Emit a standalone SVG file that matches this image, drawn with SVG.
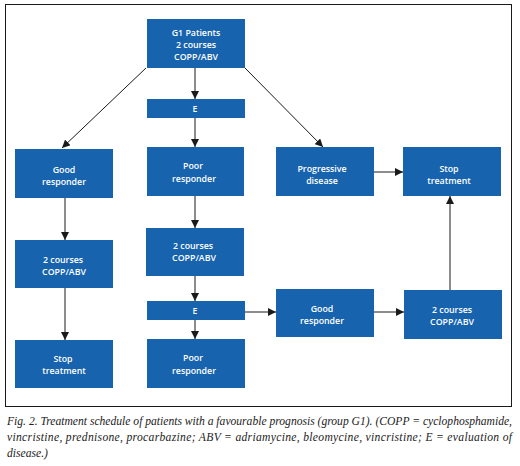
<svg xmlns="http://www.w3.org/2000/svg" width="520" height="466" viewBox="0 0 520 466">
<style>
.b{fill:#1763ad}
.t{fill:#ffffff;font-family:"Open Sans","Noto Sans",sans-serif;font-size:8.8px;font-weight:600;text-anchor:middle}
.c{stroke:#1a1a1a;stroke-width:1;fill:none;marker-end:url(#a)}
.cap{font-family:"Liberation Serif",serif;font-style:italic;font-size:11.6px;fill:#222}
</style>
<defs>
<marker id="a" viewBox="0 0 10 10" refX="10" refY="5" markerWidth="8" markerHeight="8" markerUnits="userSpaceOnUse" orient="auto">
<path d="M0,0 L10,5 L0,10 Z" fill="#1a1a1a"/>
</marker>
</defs>
<rect width="520" height="466" fill="#ffffff"/>
<rect x="5.5" y="4.5" width="506" height="402" fill="none" stroke="#1a1a1a" stroke-width="1"/>
<g id="connectors">
<line class="c" x1="146" y1="68" x2="62" y2="148"/>
<line class="c" x1="245" y1="68" x2="323" y2="147"/>
<line class="c" x1="195" y1="68" x2="195" y2="99"/>
<line class="c" x1="195" y1="118" x2="195" y2="147"/>
<line class="c" x1="195" y1="196" x2="195" y2="228"/>
<line class="c" x1="195" y1="276" x2="195" y2="301"/>
<line class="c" x1="195" y1="320" x2="195" y2="339"/>
<line class="c" x1="245" y1="312" x2="276" y2="312"/>
<line class="c" x1="374" y1="312" x2="404" y2="312"/>
<line class="c" x1="450" y1="290" x2="450" y2="196"/>
<line class="c" x1="374" y1="172" x2="403" y2="172"/>
<line class="c" x1="65" y1="198" x2="65" y2="240"/>
<line class="c" x1="65" y1="288" x2="65" y2="340"/>
</g>
<g id="n1"><rect class="b" x="147" y="19" width="98" height="49"/><text class="t" x="196" y="36">G1 Patients</text><text class="t" x="196" y="48">2 courses</text><text class="t" x="196" y="60">COPP/ABV</text></g>
<g id="n2"><rect class="b" x="147" y="99" width="98" height="19"/><text class="t" x="195" y="112">E</text></g>
<g id="n3"><rect class="b" x="15" y="149" width="98" height="49"/><text class="t" x="64" y="173">Good</text><text class="t" x="64" y="185">responder</text></g>
<g id="n4"><rect class="b" x="147" y="147" width="97" height="49"/><text class="t" x="193" y="169">Poor</text><text class="t" x="194" y="182">responder</text></g>
<g id="n5"><rect class="b" x="276" y="147" width="98" height="49"/><text class="t" x="322" y="172">Progressive</text><text class="t" x="322" y="184">disease</text></g>
<g id="n6"><rect class="b" x="403" y="147" width="98" height="49"/><text class="t" x="449" y="172">Stop</text><text class="t" x="449" y="184">treatment</text></g>
<g id="n7"><rect class="b" x="15" y="240" width="98" height="48"/><text class="t" x="63" y="263">2 courses</text><text class="t" x="64" y="275">COPP/ABV</text></g>
<g id="n8"><rect class="b" x="146" y="228" width="98" height="48"/><text class="t" x="193" y="249">2 courses</text><text class="t" x="194" y="261">COPP/ABV</text></g>
<g id="n9"><rect class="b" x="147" y="301" width="98" height="19"/><text class="t" x="195" y="314">E</text></g>
<g id="n10"><rect class="b" x="276" y="289" width="98" height="48"/><text class="t" x="322" y="312">Good</text><text class="t" x="322" y="324">responder</text></g>
<g id="n11"><rect class="b" x="404" y="290" width="98" height="49"/><text class="t" x="452" y="313">2 courses</text><text class="t" x="452" y="325">COPP/ABV</text></g>
<g id="n12"><rect class="b" x="15" y="340" width="98" height="48"/><text class="t" x="63" y="362">Stop</text><text class="t" x="64" y="374">treatment</text></g>
<g id="n13"><rect class="b" x="147" y="339" width="98" height="49"/><text class="t" x="193" y="361">Poor</text><text class="t" x="194" y="374">responder</text></g>
<text class="cap" x="7" y="425" textLength="505" lengthAdjust="spacing">Fig. 2. Treatment schedule of patients with a favourable prognosis (group G1). (COPP = cyclophosphamide,</text>
<text class="cap" x="7" y="441" textLength="505" lengthAdjust="spacing">vincristine, prednisone, procarbazine; ABV = adriamycine, bleomycine, vincristine; E = evaluation of</text>
<text class="cap" x="7" y="457">disease.)</text>
</svg>
